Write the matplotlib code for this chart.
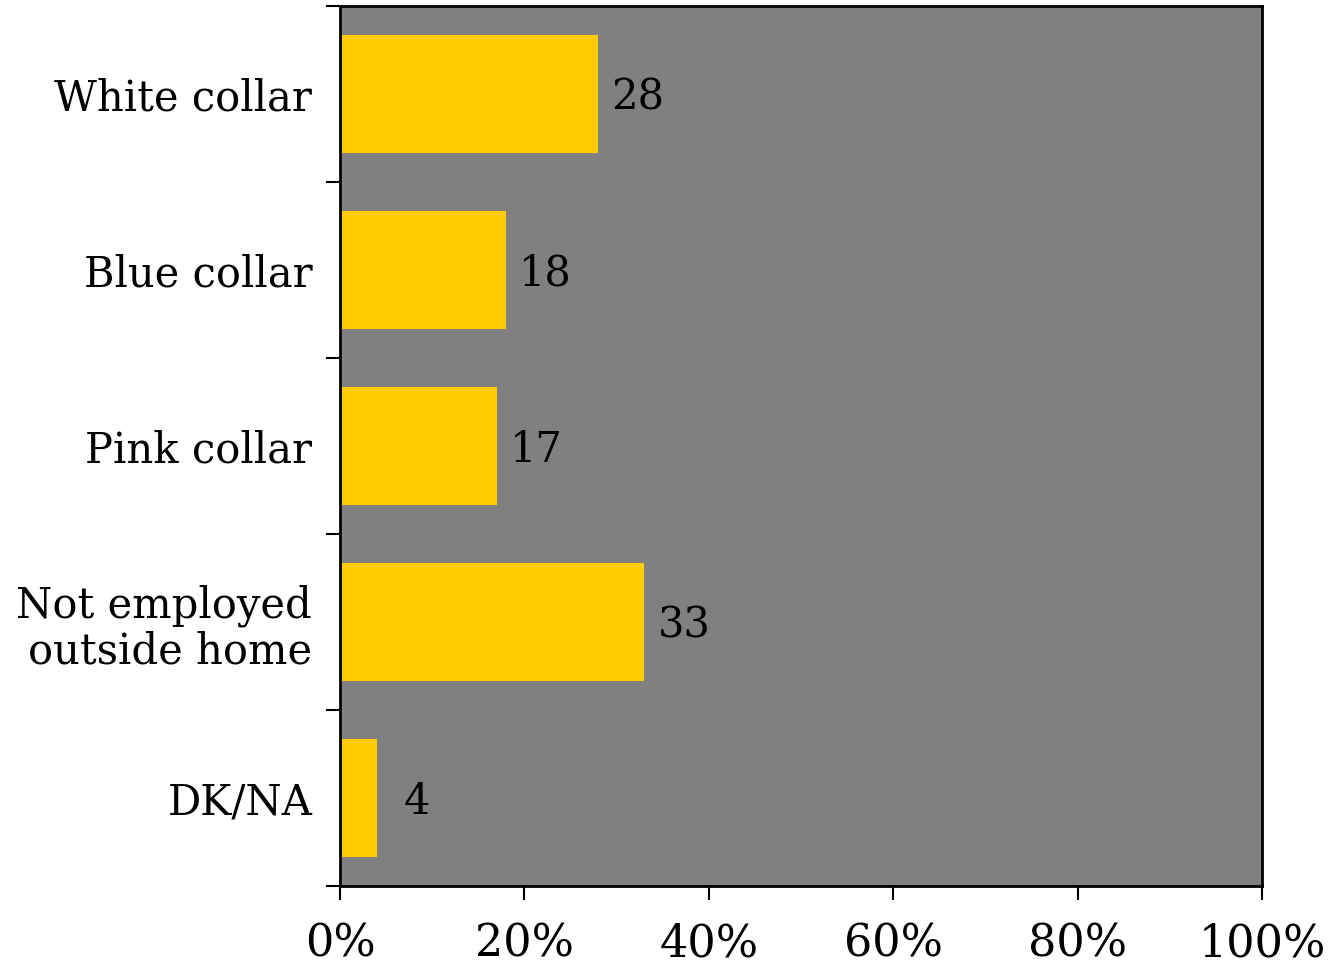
import matplotlib
matplotlib.use("Agg")
import matplotlib.pyplot as plt
from matplotlib.ticker import FixedLocator, NullFormatter, FixedFormatter

categories = ["White collar", "Blue collar", "Pink collar", "Not employed\noutside home", "DK/NA"]
values = [28, 18, 17, 33, 4]
xticks = [0, 20, 40, 60, 80, 100]
xticklabels = ["0%", "20%", "40%", "60%", "80%", "100%"]

plt.rcParams['font.family'] = ['DejaVu Serif']

fig = plt.figure(figsize=(13.34, 9.66), dpi=100)
ax = fig.add_axes([340/1334, 80/966, 922/1334, 880/966])
ax.set_facecolor('#808080')

n = len(categories)
ypos = list(range(n))
ax.barh(ypos, values, height=0.67, color='#FFCC00', zorder=2)
ax.set_xlim(0, 100)
ax.set_ylim(n - 0.5, -0.5)

for y, v in zip(ypos, values):
    ax.text(v + 4.3, y + 0.02, f"{v}", ha='center', va='center', fontsize=30, color='black', zorder=3)

ax.xaxis.set_major_locator(FixedLocator(xticks))
ax.xaxis.set_major_formatter(FixedFormatter(xticklabels))
ax.tick_params(axis='x', length=10, width=1.5, labelsize=32, pad=16, direction='out')

ax.yaxis.set_major_locator(FixedLocator([i - 0.5 for i in range(n + 1)]))
ax.yaxis.set_major_formatter(NullFormatter())
ax.yaxis.set_minor_locator(FixedLocator(ypos))
ax.yaxis.set_minor_formatter(FixedFormatter(categories))
ax.tick_params(axis='y', which='major', length=10, width=1.5, direction='out')
ax.tick_params(axis='y', which='minor', length=0, labelsize=30, pad=20)
for lbl in ax.get_yticklabels(minor=True):
    lbl.set_linespacing(1.1)

for s in ax.spines.values():
    s.set_linewidth(2)
    s.set_color('black')

fig.savefig("out.png", dpi=100)
